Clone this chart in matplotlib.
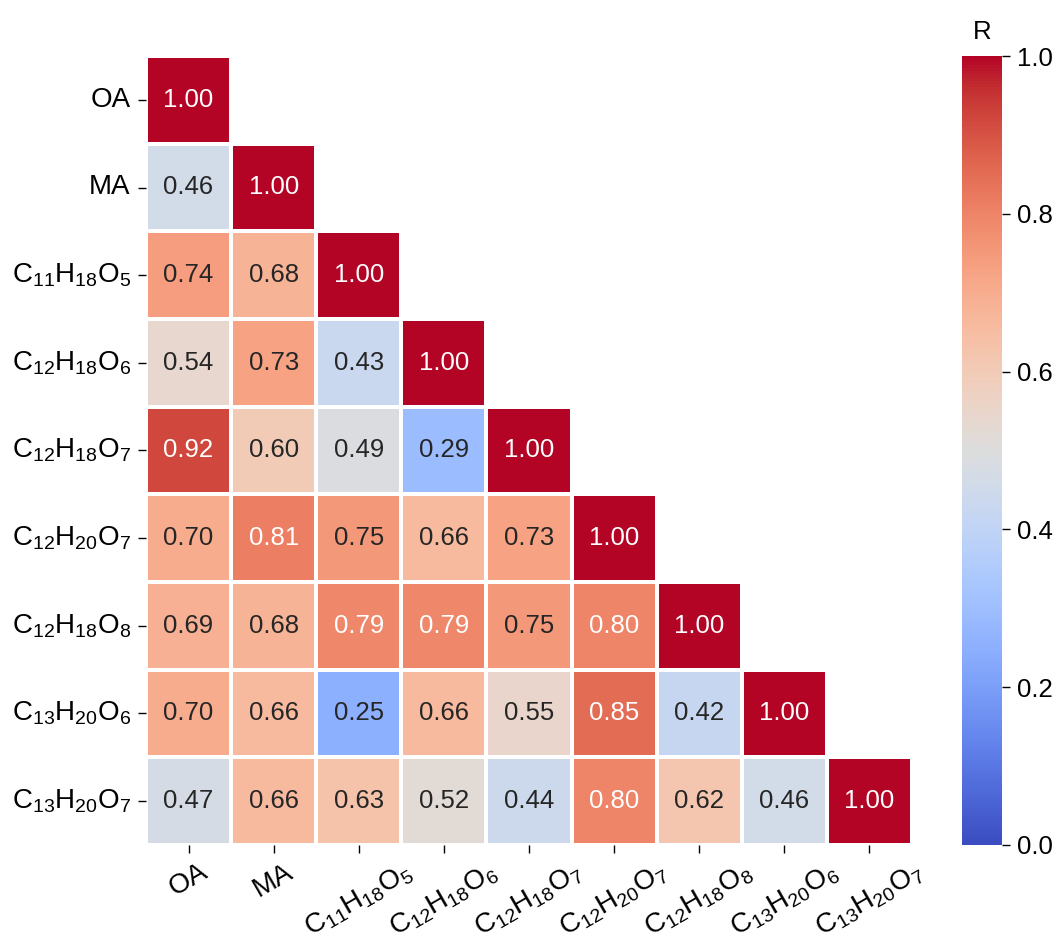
import numpy as np
import matplotlib
matplotlib.use("Agg")
import matplotlib.pyplot as plt
import seaborn as sns

plt.rcParams['font.family'] = ['Liberation Sans', 'DejaVu Sans']
plt.rcParams['mathtext.fontset'] = 'custom'
plt.rcParams['mathtext.rm'] = 'Liberation Sans'
plt.rcParams['mathtext.it'] = 'Liberation Sans:italic'
plt.rcParams['mathtext.bf'] = 'Liberation Sans:bold'

# species names
labels = ["OA", "MA",
          r"$\mathrm{C_{11}H_{18}O_5}$", r"$\mathrm{C_{12}H_{18}O_6}$",
          r"$\mathrm{C_{12}H_{18}O_7}$", r"$\mathrm{C_{12}H_{20}O_7}$",
          r"$\mathrm{C_{12}H_{18}O_8}$", r"$\mathrm{C_{13}H_{20}O_6}$",
          r"$\mathrm{C_{13}H_{20}O_7}$"]

# lower triangle of the correlation matrix, row by row
rows = [
    [1.00],
    [0.46, 1.00],
    [0.74, 0.68, 1.00],
    [0.54, 0.73, 0.43, 1.00],
    [0.92, 0.60, 0.49, 0.29, 1.00],
    [0.70, 0.81, 0.75, 0.66, 0.73, 1.00],
    [0.69, 0.68, 0.79, 0.79, 0.75, 0.80, 1.00],
    [0.70, 0.66, 0.25, 0.66, 0.55, 0.85, 0.42, 1.00],
    [0.47, 0.66, 0.63, 0.52, 0.44, 0.80, 0.62, 0.46, 1.00],
]

n = len(labels)
R = np.full((n, n), np.nan)
for i, r in enumerate(rows):
    R[i, :len(r)] = r
    R[:len(r), i] = r
mask = np.triu(np.ones((n, n), dtype=bool), k=1)

fig = plt.figure(figsize=(10.61, 9.42), dpi=100)
ax = fig.add_axes([146/1061, 1-845/942, 766/1061, 789/942])
cax = fig.add_axes([962/1061, 1-845/942, 40/1061, 789/942])

sns.heatmap(R, mask=mask, cmap="coolwarm", vmin=0, vmax=1,
            annot=True, fmt=".2f", annot_kws={"size": 18.5},
            linewidths=1.5, linecolor="white",
            xticklabels=labels, yticklabels=labels,
            ax=ax, cbar_ax=cax)

ax.tick_params(labelsize=20, length=6, width=1.0)
ax.tick_params(axis="x", pad=4)
ax.tick_params(axis="y", pad=5)
plt.setp(ax.get_xticklabels(), rotation=30, ha="center")
plt.setp(ax.get_yticklabels(), rotation=0)

cax.tick_params(labelsize=18.5, length=6, width=1.0, pad=5)
cax.set_yticks([0, 0.2, 0.4, 0.6, 0.8, 1.0])
cax.set_title("R", fontsize=18.5, pad=12)

fig.savefig("out.png", dpi=100)
